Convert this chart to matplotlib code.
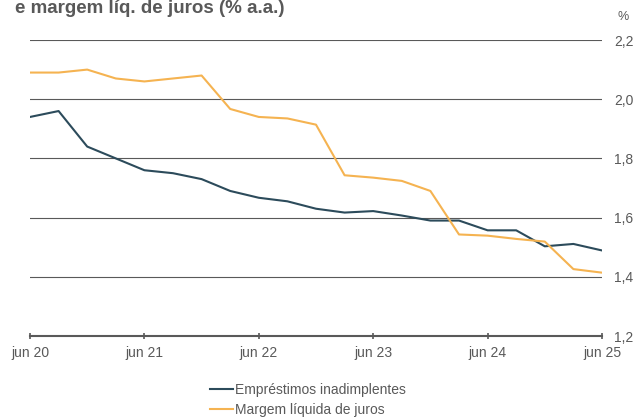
import matplotlib
matplotlib.use("Agg")
import matplotlib.pyplot as plt
import numpy as np

plt.rcParams['font.family'] = ['Liberation Sans', 'DejaVu Sans']

# Quarterly data, jun 20 .. jun 25 (21 points)
quarters = list(range(21))
emprestimos = [1.94, 1.96, 1.84, 1.80, 1.76, 1.75, 1.73, 1.69, 1.667, 1.655, 1.63,
               1.617, 1.622, 1.607, 1.59, 1.59, 1.557, 1.557, 1.503, 1.511, 1.489]
margem = [2.09, 2.09, 2.10, 2.07, 2.06, 2.07, 2.08, 1.967, 1.94, 1.935, 1.914,
          1.743, 1.735, 1.724, 1.69, 1.543, 1.539, 1.528, 1.519, 1.426, 1.414]
xtick_pos = [0, 4, 8, 12, 16, 20]
xtick_labels = ['jun 20', 'jun 21', 'jun 22', 'jun 23', 'jun 24', 'jun 25']
ytick_vals = [1.2, 1.4, 1.6, 1.8, 2.0, 2.2]
ytick_labels = ['1,2', '1,4', '1,6', '1,8', '2,0', '2,2']
series_names = ['Empréstimos inadimplentes', 'Margem líquida de juros']

W, H = 635, 418
fig = plt.figure(figsize=(W / 100, H / 100), dpi=100)
ax = fig.add_axes([30 / W, 1 - 336 / H, 572 / W, 296 / H])

gray = '#595959'
dark = '#2c4b5b'
orange = '#f5b351'

for v in ytick_vals[1:]:
    ax.axhline(v, color=gray, lw=0.8, zorder=1)

ax.plot(quarters, emprestimos, color=dark, lw=1.5, zorder=3, label=series_names[0])
ax.plot(quarters, margem, color=orange, lw=1.5, zorder=3, label=series_names[1])

ax.set_xlim(0, 20)
ax.set_ylim(1.2, 2.2)
for s in ['top', 'left', 'right']:
    ax.spines[s].set_visible(False)
ax.spines['bottom'].set_color(gray)
ax.spines['bottom'].set_linewidth(1.5)

ax.set_xticks(xtick_pos)
ax.set_xticklabels(xtick_labels)
ax.tick_params(axis='x', direction='inout', length=4, width=1.2, color=gray,
               labelcolor=gray, labelsize=10, pad=5)
ax.yaxis.tick_right()
ax.set_yticks(ytick_vals)
ax.set_yticklabels(ytick_labels)
ax.tick_params(axis='y', length=0, labelcolor=gray, labelsize=10, pad=8.5)

fig.text(15 / W, 1 - 13 / H, 'e margem líq. de juros (% a.a.)', fontsize=13.5,
         fontweight='bold', color=gray, ha='left', va='baseline')
fig.text(623.5 / W, 1 - 17 / H, '%', fontsize=9, color=gray, ha='center', va='center')

fig.legend(loc='upper left', bbox_to_anchor=(210 / W, 1 - 383 / H), frameon=False,
           fontsize=10, handlelength=1.65, handletextpad=0.15, labelspacing=0.40,
           borderpad=0, borderaxespad=0, labelcolor=gray)

fig.savefig('out.png', dpi=100)
